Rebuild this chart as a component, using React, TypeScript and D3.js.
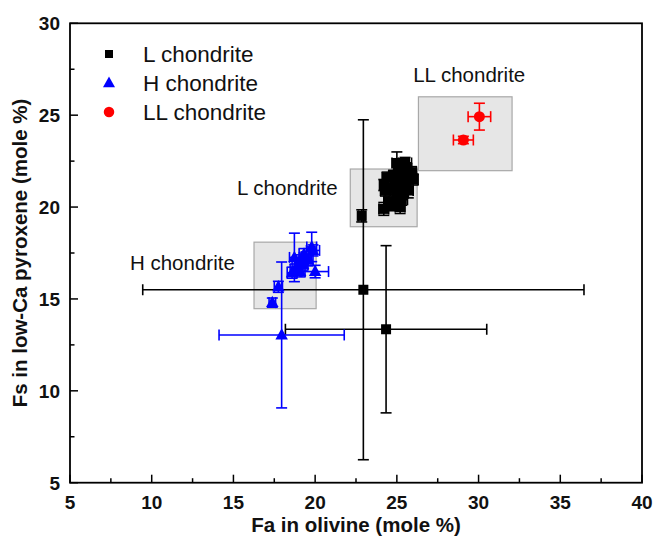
import React from "react";
import * as d3 from "d3";

const width = 654;
const height = 543;
const margin = { top: 23.3, right: 12, bottom: 60.3, left: 70 };
const font = "'Liberation Sans', Arial, sans-serif";

// [Fa in olivine, Fs in low-Ca pyroxene, Fa error, Fs error]
const lChondrite = [
  [22.95, 15.5, 13.5, 9.25],
  [24.34, 13.35, 6.16, 4.55],
  [22.85, 19.52, 0.2, 0.33],
  [24.2, 19.9, 0.3, 0.35],
  [24.5, 20.3, 0.3, 0.3],
  [24.3, 20.9, 0.3, 0.3],
  [24.2, 21.2, 0.25, 0.3],
  [24.6, 21.0, 0.3, 0.3],
  [24.8, 20.1, 0.3, 0.3],
  [25.0, 20.5, 0.3, 0.3],
  [25.2, 20.0, 0.3, 0.35],
  [25.3, 20.4, 0.35, 0.3],
  [25.1, 20.9, 0.3, 0.3],
  [25.4, 20.8, 0.3, 0.3],
  [24.9, 21.3, 0.3, 0.3],
  [25.2, 21.5, 0.3, 0.3],
  [25.5, 21.2, 0.3, 0.3],
  [24.8, 21.7, 0.3, 0.3],
  [25.1, 21.9, 0.3, 0.3],
  [25.4, 21.8, 0.3, 0.3],
  [25.6, 21.5, 0.4, 0.3],
  [25.8, 21.7, 0.3, 0.3],
  [26.0, 21.5, 0.3, 0.3],
  [25.9, 21.9, 0.3, 0.3],
  [25.3, 22.2, 0.3, 0.3],
  [25.6, 22.1, 0.3, 0.3],
  [25.0, 22.4, 0.3, 0.6],
  [25.5, 22.4, 0.4, 0.3],
  [24.4, 21.6, 0.3, 0.3],
  [25.7, 20.9, 0.3, 0.4],
];

const hChondrite = [
  [17.95, 13.04, 3.83, 3.97],
  [17.75, 15.66, 0.25, 0.3],
  [17.38, 14.8, 0.2, 0.25],
  [18.73, 17.26, 0.3, 1.32],
  [19.79, 17.83, 0.3, 0.8],
  [20.0, 16.49, 0.82, 0.34],
  [18.59, 16.43, 0.3, 0.3],
  [18.89, 16.76, 0.3, 0.3],
  [19.08, 17.1, 0.3, 0.3],
  [19.26, 16.87, 0.3, 0.3],
  [19.44, 17.26, 0.3, 0.3],
  [18.77, 16.6, 0.3, 0.3],
  [19.08, 16.5, 0.3, 0.3],
  [19.32, 17.44, 0.3, 0.3],
  [19.57, 17.1, 0.3, 0.3],
  [19.87, 17.64, 0.4, 0.3],
];

const llChondrite = [
  [30.05, 24.92, 0.69, 0.73],
  [29.07, 23.65, 0.61, 0.2],
];

// equilibrated fields [Fa min, Fa max, Fs min, Fs max]
const fieldBoxes = [
  [16.26, 20.06, 14.47, 18.09],
  [22.15, 26.24, 18.93, 22.07],
  [26.32, 32.05, 21.98, 26.0],
];

const fieldLabels = ["H chondrite", "L chondrite", "LL chondrite"];
const fieldLabelPos = [
  [8.67, 16.58],
  [15.22, 20.66],
  [26.0, 26.8],
];

const seriesNames = ["L chondrite", "H chondrite", "LL chondrite"];
const seriesColors = ["#000000", "#0000ff", "#ff0000"];

const xTicks = [5, 10, 15, 20, 25, 30, 35, 40];
const yTicks = [5, 10, 15, 20, 25, 30];

const Marker = ({ kind, x, y, color, size }: any) => {
  if (kind === 0) {
    return <rect x={x - size / 2} y={y - size / 2} width={size} height={size} fill={color} />;
  }
  if (kind === 1) {
    const h = size * 0.9;
    return (
      <path
        d={`M${x},${y - h * 0.6} L${x + size / 2},${y + h * 0.4} L${x - size / 2},${y + h * 0.4} Z`}
        fill={color}
      />
    );
  }
  return <circle cx={x} cy={y} r={size / 2} fill={color} />;
};

const App = () => {
  const x = d3.scaleLinear().domain([5, 40]).range([margin.left, width - margin.right]);
  const y = d3.scaleLinear().domain([5, 30]).range([height - margin.bottom, margin.top]);
  const minorX = d3.range(7.5, 40, 5);
  const minorY = d3.range(7.5, 30, 5);
  const x0 = x(5), x1 = x(40), y0 = y(5), y1 = y(30);
  const cap = 5.5;
  const series = [lChondrite, hChondrite, llChondrite];
  const sizes = [10, 12.5, 11];

  const errorBars = (d: number[], color: string, key: string) => {
    const cx = x(d[0]), cy = y(d[1]);
    const xl = x(d[0] - d[2]), xr = x(d[0] + d[2]);
    const yt = y(d[1] + d[3]), yb = y(d[1] - d[3]);
    return (
      <g key={key} stroke={color} strokeWidth={1.6}>
        <line x1={xl} x2={xr} y1={cy} y2={cy} />
        <line x1={xl} x2={xl} y1={cy - cap} y2={cy + cap} />
        <line x1={xr} x2={xr} y1={cy - cap} y2={cy + cap} />
        <line x1={cx} x2={cx} y1={yt} y2={yb} />
        <line x1={cx - cap} x2={cx + cap} y1={yt} y2={yt} />
        <line x1={cx - cap} x2={cx + cap} y1={yb} y2={yb} />
      </g>
    );
  };

  return (
    <svg
      width={width}
      height={height}
      style={{ position: "absolute", left: 0, top: 0, background: "#fff" }}
      fontFamily={font}
    >
      {/* shaded fields */}
      {fieldBoxes.map((b, i) => (
        <rect
          key={i}
          x={x(b[0])}
          y={y(b[3])}
          width={x(b[1]) - x(b[0])}
          height={y(b[2]) - y(b[3])}
          fill="#e6e6e6"
          stroke="#a8a8a8"
          strokeWidth={1.2}
        />
      ))}
      {fieldLabels.map((t, i) => (
        <text key={t} x={x(fieldLabelPos[i][0])} y={y(fieldLabelPos[i][1])} fontSize={20.5} fill="#111">
          {t}
        </text>
      ))}

      {/* error bars then markers */}
      {series.map((s, si) => (
        <g key={si}>
          {s.map((d, i) => errorBars(d, seriesColors[si], `${si}-${i}`))}
          {s.map((d, i) => (
            <Marker key={i} kind={si} x={x(d[0])} y={y(d[1])} color={seriesColors[si]} size={sizes[si]} />
          ))}
        </g>
      ))}

      {/* frame */}
      <rect x={x0} y={y1} width={x1 - x0} height={y0 - y1} fill="none" stroke="#000" strokeWidth={1.8} />

      {/* ticks */}
      <g stroke="#000" strokeWidth={1.5}>
        {xTicks.map((t) => <line key={"xt" + t} x1={x(t)} x2={x(t)} y1={y0} y2={y0 - 8} />)}
        {minorX.map((t) => <line key={"xm" + t} x1={x(t)} x2={x(t)} y1={y0} y2={y0 - 4.5} />)}
        {yTicks.map((t) => <line key={"yt" + t} x1={x0} x2={x0 + 8} y1={y(t)} y2={y(t)} />)}
        {minorY.map((t) => <line key={"ym" + t} x1={x0} x2={x0 + 4.5} y1={y(t)} y2={y(t)} />)}
      </g>

      {/* tick labels */}
      <g fontWeight="bold" fontSize={19} fill="#111">
        {xTicks.map((t) => (
          <text key={"xl" + t} x={x(t)} y={y0 + 26} textAnchor="middle">{t}</text>
        ))}
        {yTicks.map((t) => (
          <text key={"yl" + t} x={x0 - 10} y={y(t) + 7} textAnchor="end">{t}</text>
        ))}
      </g>

      {/* axis titles */}
      <text
        x={(x0 + x1) / 2}
        y={height - 11}
        textAnchor="middle"
        fontWeight="bold"
        fontSize={20.5}
        fill="#111"
      >
        Fa in olivine (mole %)
      </text>
      <text
        transform={`translate(${27},${(y0 + y1) / 2}) rotate(-90)`}
        textAnchor="middle"
        fontWeight="bold"
        fontSize={20.5}
        fill="#111"
      >
        Fs in low-Ca pyroxene (mole %)
      </text>

      {/* legend */}
      {seriesNames.map((n, i) => (
        <g key={n} transform={`translate(109,${54 + i * 29})`}>
          <Marker kind={i} x={0} y={0} color={seriesColors[i]} size={i === 0 ? 8 : i === 1 ? 12 : 10.5} />
          <text x={34} y={8} fontSize={22.5} fill="#111">{n}</text>
        </g>
      ))}
    </svg>
  );
};

export default App;
